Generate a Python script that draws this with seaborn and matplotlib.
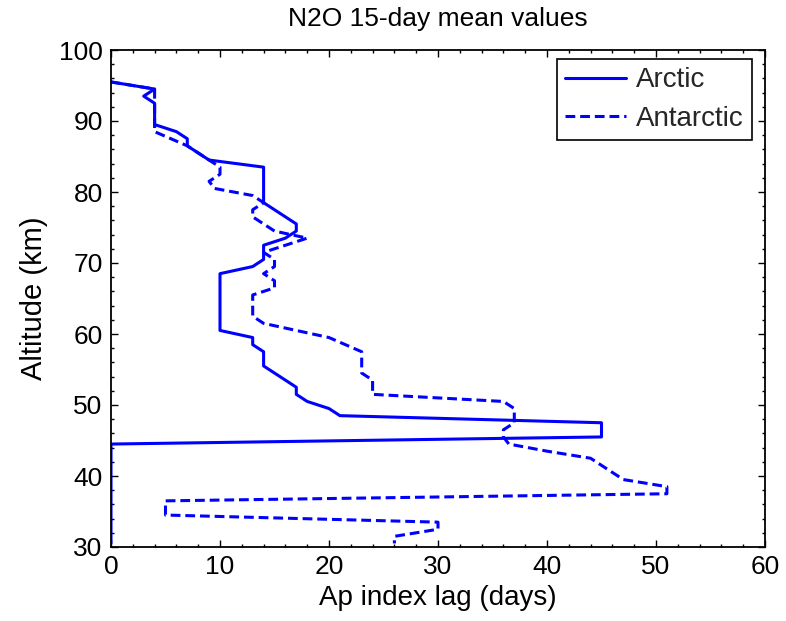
import numpy as np
import pandas as pd
import matplotlib
matplotlib.use("Agg")
import matplotlib.pyplot as plt
from matplotlib.ticker import MultipleLocator
import seaborn as sns

# ---- data ----
altitude_km = [95.5 - k for k in range(66)]

arctic_lag = [0, 4, 3, 4, 4, 4, 4, 6, 7, 7, 8, 9,
              14, 14, 14, 14, 14, 14, 15, 16, 17, 17, 16, 14, 14, 14, 13,
              10, 10, 10, 10, 10, 10, 10, 10, 10,
              13, 13, 14, 14, 14, 15, 16, 17, 17, 18, 20, 21,
              45, 45, 45,
              0, 0, 0, 0, 0, 0, 0, 0, 0, 0, 0, 0, 0, 0, 0]

antarctic_lag = [0, 4, 4, 4, 4, 4, 4, 4, 5.5, 7, 8, 9,
                 10, 10, 9, 9.5, 13, 14, 13, 13, 14, 15, 18, 16, 14, 15, 15,
                 14, 15, 15, 13, 13, 13, 13, 14, 17,
                 20, 21.5, 23, 23, 23, 23, 24, 24, 24, 36, 37, 37,
                 37, 36, 36,
                 36.5, 40, 44, 45, 46, 47, 51, 51, 5, 5, 5, 30, 30, 26, 26]

series_names = ["Arctic", "Antarctic"]
x_ticks = [0, 10, 20, 30, 40, 50, 60]
y_ticks = [30, 40, 50, 60, 70, 80, 90, 100]

df = pd.DataFrame({
    "alt": altitude_km * 2,
    "lag": arctic_lag + antarctic_lag,
    "region": [series_names[0]] * len(altitude_km) + [series_names[1]] * len(altitude_km),
})

sns.set_theme(style="white")
plt.rcParams["font.family"] = ["Liberation Sans", "DejaVu Sans"]

fig = plt.figure(figsize=(7.86, 6.21), dpi=100)
ax = fig.add_axes([111 / 786, 1 - 547 / 621, (765 - 111) / 786, (547 - 50) / 621])

sns.lineplot(data=df, x="lag", y="alt", hue="region", style="region",
             palette={"Arctic": "#0000FF", "Antarctic": "#0000FF"},
             dashes={"Arctic": "", "Antarctic": (3.2, 1.6)},
             sort=False, estimator=None, linewidth=2.2, ax=ax)

ax.set_xlim(0, 60)
ax.set_ylim(30, 100)
ax.set_xticks(x_ticks)
ax.set_yticks(y_ticks)
ax.xaxis.set_minor_locator(MultipleLocator(2))
ax.yaxis.set_minor_locator(MultipleLocator(2))
ax.tick_params(which="both", direction="in", top=True, right=True,
               bottom=True, left=True, color="black", width=1.0,
               labelsize=19, labelcolor="black", pad=6)
ax.tick_params(which="major", length=5)
ax.tick_params(which="minor", length=2.5)
for s in ax.spines.values():
    s.set_color("black")
    s.set_linewidth(1.3)
    s.set_visible(True)

ax.set_xlabel("Ap index lag (days)", fontsize=20, color="black", labelpad=4)
ax.set_ylabel("Altitude (km)", fontsize=21, color="black", labelpad=8)
ax.set_title("N2O 15-day mean values", fontsize=19, color="black", pad=17)

handles, labels = ax.get_legend_handles_labels()
leg = ax.legend(handles, labels, loc="upper right",
                bbox_to_anchor=(1 - 13 / 654, 1 - 9 / 497),
                borderaxespad=0.0, fontsize=20,
                frameon=True, fancybox=False, edgecolor="black",
                framealpha=1, handlelength=2.2, handletextpad=0.35,
                borderpad=0.3, labelspacing=0.45)
leg.get_frame().set_linewidth(1.2)

ax.set_facecolor("white")
fig.patch.set_facecolor("white")
fig.savefig("out.png", dpi=100)
